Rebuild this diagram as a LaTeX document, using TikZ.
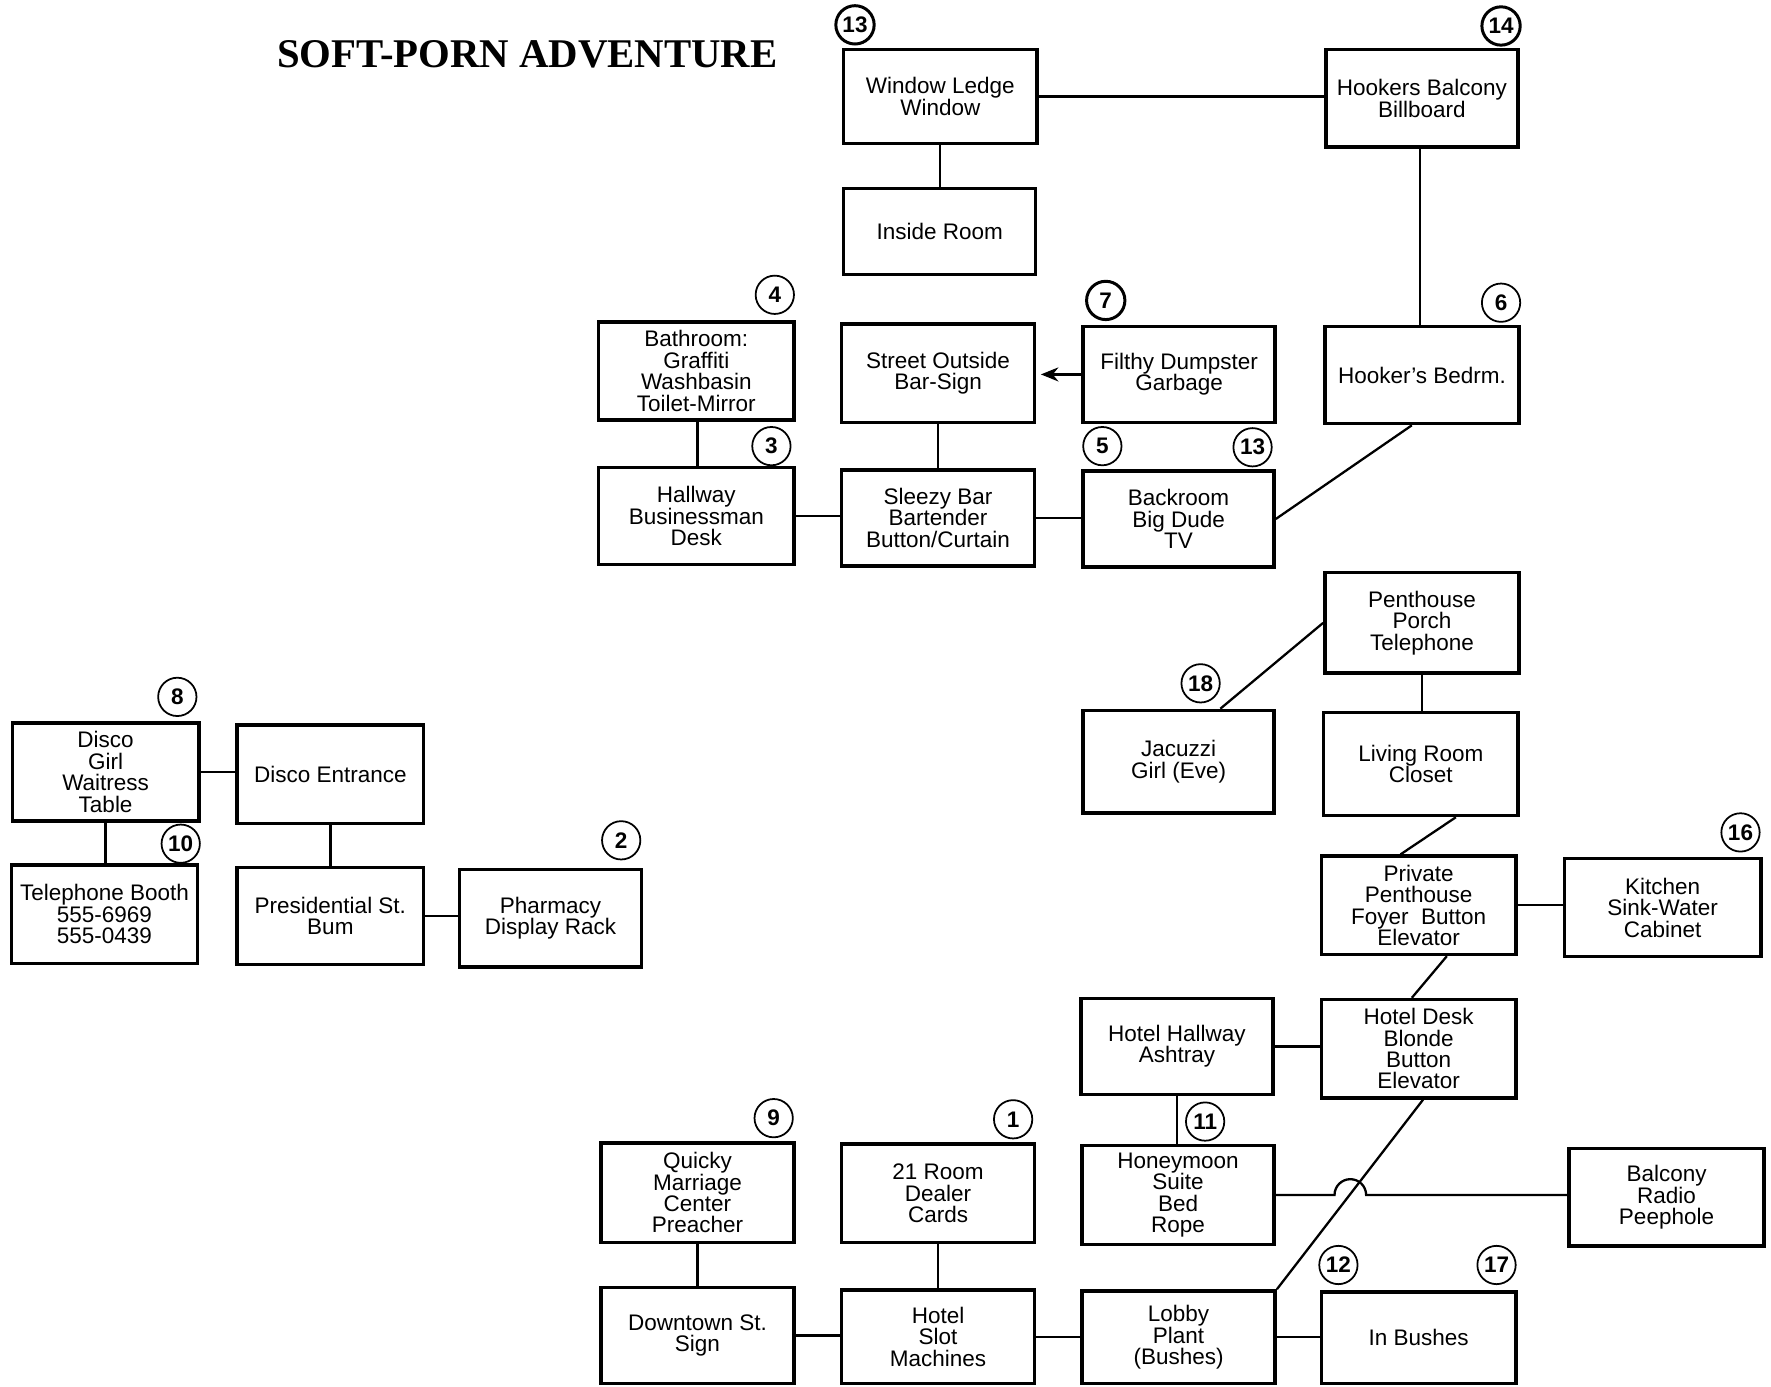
\documentclass[tikz,border=0pt]{standalone}
\usepackage{fontspec}
\newfontfamily\roomfont{Liberation Sans}
\newfontfamily\titlefont{Liberation Serif}
\usetikzlibrary{calc,arrows.meta}
\tikzset{
  room/.style={draw, line width=1pt, inner sep=0pt, align=center,
    font=\roomfont\fontsize{6.4}{6.1}\selectfont},
  numc/.style={draw, circle, line width=0.5pt, minimum size=10.9pt, inner sep=0pt,
    font=\roomfont\bfseries\fontsize{6.4}{6.4}\selectfont},
  boldc/.style={numc, line width=0.85pt},
  link/.style={line width=0.65pt},
}
\newcommand\rbox[6]{\node[room, minimum width={(#4-#2)*0.011295cm}, minimum height={(#5-#3)*0.011295cm}] (#1) at ({(#2+#4)/2},{(#3+#5)/2}) {#6};}
\begin{document}
\begin{tikzpicture}[x=0.011295cm, y=-0.011295cm]
\useasboundingbox (0,0) rectangle (1568,1228);

\node[font=\titlefont\bfseries\fontsize{11.6}{12}\selectfont] (title) at (467,48) {SOFT-PORN ADVENTURE};

\rbox{wl}{747}{44}{918}{127}{Window Ledge\\Window}
\rbox{ir}{747}{167}{917}{243}{Inside Room}
\rbox{hb}{1174}{44}{1344}{130}{Hookers Balcony\\Billboard}
\rbox{hbd}{1173}{289}{1345}{375}{Hooker’s Bedrm.}
\rbox{bath}{530}{285}{703}{372}{Bathroom:\\Graffiti\\Washbasin\\Toilet-Mirror}
\rbox{so}{745}{287}{916}{374}{Street Outside\\Bar-Sign}
\rbox{fd}{959}{289}{1129}{374}{Filthy Dumpster\\Garbage}
\rbox{hw}{530}{414}{703}{500}{Hallway\\Businessman\\Desk}
\rbox{sb}{745}{416}{916}{501}{Sleezy Bar\\Bartender\\Button/Curtain}
\rbox{br}{959}{417}{1128}{502}{Backroom\\Big Dude\\TV}
\rbox{pp}{1173}{507}{1345}{596}{Penthouse\\Porch\\Telephone}
\rbox{jac}{959}{629}{1128}{720}{Jacuzzi\\Girl (Eve)}
\rbox{lr}{1172}{631}{1344}{722}{Living Room\\Closet}
\rbox{ppf}{1170}{758}{1342}{845}{Private\\Penthouse\\Foyer\ \ Button\\Elevator}
\rbox{kit}{1385}{760}{1559}{847}{Kitchen\\Sink-Water\\Cabinet}
\rbox{dg}{11}{640}{176}{727}{Disco\\Girl\\Waitress\\Table}
\rbox{de}{210}{642}{375}{729}{Disco Entrance}
\rbox{tb}{10}{766}{175}{853}{Telephone Booth\\555-6969\\555-0439}
\rbox{ps}{210}{768}{375}{854}{Presidential St.\\Bum}
\rbox{ph}{407}{770}{568}{856}{Pharmacy\\Display Rack}
\rbox{hh}{957}{884}{1127}{969}{Hotel Hallway\\Ashtray}
\rbox{hd}{1170}{885}{1342}{972}{Hotel Desk\\Blonde\\Button\\Elevator}
\rbox{qm}{532}{1012}{703}{1100}{Quicky\\Marriage\\Center\\Preacher}
\rbox{tr}{745}{1013}{916}{1100}{21 Room\\Dealer\\Cards}
\rbox{hm}{958}{1014}{1128}{1102}{Honeymoon\\Suite\\Bed\\Rope}
\rbox{bal}{1389}{1017}{1562}{1103}{Balcony\\Radio\\Peephole}
\rbox{dt}{532}{1140}{703}{1225}{Downtown St.\\Sign}
\rbox{hs}{745}{1142}{916}{1225}{Hotel\\Slot\\Machines}
\rbox{lob}{958}{1143}{1129}{1225}{Lobby\\Plant\\(Bushes)}
\rbox{ib}{1170}{1144}{1342}{1225}{In Bushes}

\node[boldc] (n13a) at (757,22) {13};
\node[boldc] (n14) at (1329,23) {14};
\node[numc] (n4) at (686,261) {4};
\node[boldc] (n7) at (979,266) {7};
\node[numc] (n6) at (1329,268) {6};
\node[numc] (n3) at (683,395) {3};
\node[numc] (n5) at (976,395) {5};
\node[numc] (n13b) at (1109,396) {13};
\node[numc] (n8) at (157,617) {8};
\node[numc] (n10) at (160,747) {10};
\node[numc] (n2) at (550,744) {2};
\node[numc] (n18) at (1063,605) {18};
\node[numc] (n16) at (1541,737) {16};
\node[numc] (n9) at (685,990) {9};
\node[numc] (n1) at (897,991) {1};
\node[numc] (n11) at (1067,993) {11};
\node[numc] (n12) at (1185,1120) {12};
\node[numc] (n17) at (1325,1120) {17};

% horizontal links
\draw[link] (wl.east) -- (wl.east -| hb.west);
\draw[link] (hw.east) -- (hw.east -| sb.west);
\draw[link] (sb.east) -- (sb.east -| br.west);
\draw[link] (ppf.east) -- (ppf.east -| kit.west);
\draw[link] (hh.east) -- (hh.east -| hd.west);
\draw[link] (dt.east) -- (dt.east -| hs.west);
\draw[link] (hs.east) -- (hs.east -| lob.west);
\draw[link] (lob.east) -- (lob.east -| ib.west);
\draw[link] (dg.east) -- (dg.east -| de.west);
\draw[link] (ps.east) -- (ps.east -| ph.west);
\draw[link, -{Stealth[length=5pt,width=4pt]}] (fd.west) -- ($(fd.west -| so.east)+(4,0)$);
\draw[link] (hm.east) -- ($(hm.east)+(52,0)$) arc[start angle=180, end angle=0, radius=0.158cm] -- (hm.east -| bal.west);

% vertical links
\draw[link] (wl.south) -- (wl.south |- ir.north);
\draw[link] ($(hb.south)+(-2,0)$) -- ($(hbd.north)+(-2,0)$);
\draw[link] ($(bath.south)+(1,0)$) -- ($(hw.north)+(1,0)$);
\draw[link] (so.south) -- (so.south |- sb.north);
\draw[link] (pp.south) -- (pp.south |- lr.north);
\draw[link] (hh.south) -- (hh.south |- hm.north);
\draw[link] (qm.south) -- (qm.south |- dt.north);
\draw[link] (tr.south) -- (tr.south |- hs.north);
\draw[link] (dg.south) -- (dg.south |- tb.north);
\draw[link] (de.south) -- (de.south |- ps.north);

% diagonal links
\draw[link] ($(hbd.south)+(-9,0)$) -- (br.east);
\draw[link] (pp.west) -- ($(jac.north)+(37,0)$);
\draw[link] ($(lr.south)+(31,0)$) -- ($(ppf.north)+(-16,0)$);
\draw[link] ($(ppf.south)+(25,0)$) -- ($(hd.north)+(-6,0)$);
\draw[link] ($(hd.south)+(4,0)$) -- (lob.north east);
\end{tikzpicture}
\end{document}
